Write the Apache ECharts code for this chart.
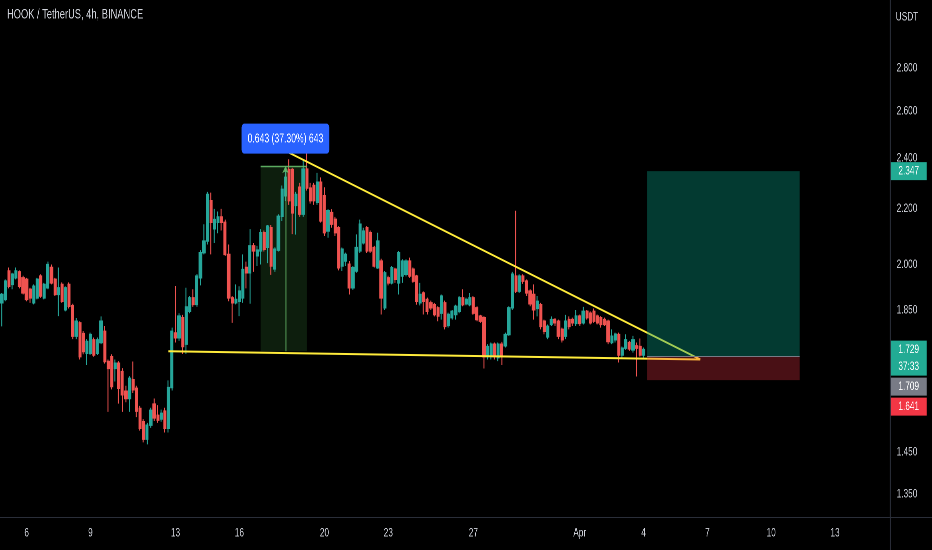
<!DOCTYPE html>
<html><head><meta charset="utf-8">
<script src="https://cdn.jsdelivr.net/npm/echarts@6/dist/echarts.min.js"></script>
<style>html,body{margin:0;padding:0;background:#000;overflow:hidden;width:932px;height:550px}#c{width:1351px;height:550px;transform:scaleX(0.68986);transform-origin:0 0}</style>
</head><body><div id="c"></div>
<script>
const chartTitle = 'HOOK / TetherUS, 4h, BINANCE';
const startUTC = [2023, 2, 4, 20];
const slotCount = 251;
// [open, close, low, high]
const ohlc = [
[1.873,1.900,1.799,1.905],[1.884,1.944,1.878,1.950],[1.978,1.927,1.920,1.990],[1.933,1.967,1.917,1.972],
[1.955,1.978,1.950,1.990],[1.975,1.927,1.920,1.980],[1.955,1.905,1.900,1.962],[1.950,1.884,1.878,1.955],
[1.917,1.889,1.873,1.922],[1.873,1.927,1.868,1.933],[1.889,1.950,1.884,1.955],[1.961,1.895,1.889,1.967],
[1.889,1.933,1.884,1.938],[1.922,2.000,1.917,2.010],[1.990,1.938,1.933,2.000],[1.950,1.900,1.895,1.955],
[1.900,1.922,1.831,1.990],[1.933,1.878,1.873,1.940],[1.851,1.922,1.846,1.927],[1.933,1.862,1.855,1.940],
[1.864,1.769,1.760,1.870],[1.769,1.815,1.760,1.825],[1.810,1.708,1.700,1.815],[1.777,1.723,1.715,1.785],
[1.718,1.753,1.684,1.760],[1.718,1.774,1.713,1.780],[1.758,1.713,1.708,1.765],[1.718,1.758,1.713,1.765],
[1.750,1.815,1.745,1.830],[1.784,1.694,1.688,1.800],[1.694,1.674,1.554,1.700],[1.708,1.623,1.615,1.715],
[1.674,1.689,1.637,1.700],[1.689,1.618,1.576,1.695],[1.665,1.600,1.554,1.675],[1.610,1.590,1.580,1.625],
[1.590,1.646,1.554,1.652],[1.642,1.614,1.605,1.694],[1.618,1.556,1.540,1.625],[1.563,1.511,1.505,1.570],
[1.528,1.483,1.475,1.535],[1.483,1.519,1.470,1.525],[1.519,1.558,1.512,1.565],[1.575,1.538,1.530,1.590],
[1.545,1.532,1.525,1.572],[1.535,1.550,1.528,1.560],[1.556,1.511,1.500,1.565],[1.511,1.620,1.500,1.640],
[1.620,1.784,1.612,1.795],[1.779,1.764,1.750,1.928],[1.764,1.831,1.755,1.840],[1.826,1.738,1.716,1.835],
[1.745,1.860,1.716,1.922],[1.846,1.889,1.840,1.895],[1.889,1.868,1.860,1.917],[1.868,1.961,1.860,1.968],
[1.955,2.041,1.930,2.050],[2.041,2.082,2.035,2.143],[2.082,2.255,2.070,2.265],[2.231,2.150,2.035,2.262],
[2.126,2.160,2.075,2.200],[2.150,2.170,2.110,2.190],[2.170,2.150,2.120,2.200],[2.150,2.035,2.030,2.160],
[2.035,1.889,1.878,2.070],[1.889,1.873,1.810,1.895],[1.873,1.884,1.868,1.933],[1.878,1.911,1.831,1.927],
[1.889,1.983,1.873,2.035],[1.990,1.972,1.920,2.010],[1.972,2.065,1.870,2.125],[2.065,2.047,1.975,2.075],
[2.030,2.050,1.995,2.065],[2.047,2.112,2.000,2.125],[2.112,2.053,2.045,2.120],[2.060,2.136,2.005,2.140],
[2.130,1.995,1.965,2.140],[1.985,2.053,1.975,2.060],[2.050,2.172,2.045,2.180],[2.172,2.275,2.155,2.290],
[2.250,2.322,2.230,2.360],[2.353,2.231,2.215,2.395],[2.353,2.185,2.107,2.360],[2.213,2.255,2.105,2.265],
[2.283,2.180,2.170,2.300],[2.180,2.355,2.170,2.390],[2.355,2.280,2.270,2.420],[2.280,2.231,2.220,2.300],
[2.290,2.231,2.215,2.300],[2.225,2.303,2.215,2.340],[2.303,2.155,2.149,2.322],[2.250,2.112,2.100,2.283],
[2.118,2.193,2.094,2.199],[2.186,2.143,2.130,2.199],[2.161,2.112,2.100,2.170],[2.130,1.989,1.980,2.136],
[1.995,2.053,1.978,2.059],[2.012,2.035,1.995,2.041],[2.001,1.922,1.900,2.012],[1.922,1.989,1.915,1.995],
[1.978,2.059,1.972,2.106],[2.047,2.143,2.040,2.160],[2.076,2.118,2.070,2.130],[2.130,2.047,2.040,2.136],
[2.112,2.047,2.040,2.120],[2.059,1.995,1.990,2.065],[1.989,2.082,1.985,2.112],[2.012,1.889,1.836,2.020],
[1.857,1.972,1.850,1.978],[1.955,1.938,1.930,1.962],[1.938,1.989,1.933,1.995],[1.984,1.950,1.938,1.989],
[1.938,2.041,1.900,2.047],[1.961,2.012,1.938,2.018],[1.967,2.012,1.960,2.018],[2.012,1.961,1.955,2.024],
[1.984,1.944,1.938,1.990],[1.961,1.878,1.867,1.965],[1.873,1.900,1.865,1.938],[1.905,1.878,1.836,1.910],
[1.884,1.846,1.836,1.890],[1.873,1.857,1.850,1.880],[1.867,1.836,1.830,1.873],[1.857,1.831,1.815,1.862],
[1.840,1.895,1.820,1.900],[1.873,1.799,1.790,1.880],[1.802,1.836,1.795,1.842],[1.826,1.846,1.820,1.850],
[1.836,1.862,1.820,1.867],[1.846,1.889,1.840,1.895],[1.889,1.867,1.862,1.917],[1.870,1.884,1.865,1.890],
[1.867,1.889,1.862,1.905],[1.889,1.840,1.835,1.895],[1.857,1.820,1.815,1.862],[1.831,1.815,1.810,1.835],
[1.826,1.708,1.674,1.831],[1.708,1.738,1.700,1.745],[1.708,1.745,1.700,1.750],[1.745,1.708,1.700,1.750],
[1.705,1.745,1.695,1.750],[1.745,1.708,1.684,1.752],[1.740,1.774,1.735,1.780],[1.774,1.857,1.770,1.862],
[1.857,1.967,1.850,1.975],[1.961,1.911,1.905,2.193],[1.911,1.961,1.905,1.967],[1.961,1.944,1.935,1.967],
[1.944,1.905,1.895,1.950],[1.911,1.870,1.862,1.917],[1.900,1.851,1.820,1.933],[1.855,1.878,1.830,1.895],
[1.867,1.799,1.790,1.873],[1.815,1.784,1.775,1.820],[1.767,1.799,1.760,1.805],[1.805,1.820,1.800,1.830],
[1.820,1.810,1.800,1.825],[1.815,1.769,1.760,1.820],[1.790,1.758,1.750,1.795],[1.769,1.815,1.760,1.835],
[1.820,1.799,1.790,1.830],[1.820,1.810,1.800,1.826],[1.808,1.831,1.800,1.850],[1.831,1.808,1.800,1.836],
[1.810,1.846,1.805,1.860],[1.846,1.826,1.820,1.850],[1.840,1.810,1.805,1.846],[1.846,1.815,1.810,1.855],
[1.831,1.810,1.805,1.836],[1.826,1.805,1.795,1.831],[1.820,1.805,1.800,1.826],[1.815,1.753,1.745,1.820],
[1.750,1.769,1.745,1.790],[1.758,1.775,1.750,1.780],[1.774,1.713,1.691,1.780],[1.713,1.733,1.705,1.738],
[1.733,1.758,1.728,1.775],[1.750,1.731,1.725,1.755],[1.728,1.758,1.720,1.770],[1.740,1.733,1.651,1.750],
[1.738,1.713,1.708,1.762],[1.713,1.729,1.705,1.735]
];
const dayTickDates = ['2023-03-06','2023-03-09','2023-03-13','2023-03-16','2023-03-20','2023-03-23','2023-03-27','2023-04-01','2023-04-04','2023-04-07','2023-04-10','2023-04-13'];
const dayTickLabels = ['6','9','13','16','20','23','27','Apr','4','7','10','13'];
const priceTicks = [2.8, 2.6, 2.4, 2.2, 2.0, 1.85, 1.45, 1.35];
const priceRange = [1.298, 3.146];
const upperTrend = [['2023-03-18 08:00', 2.422], ['2023-04-06 16:00', 1.700]];
const lowerTrend = [['2023-03-12 16:00', 1.724], ['2023-04-06 16:00', 1.700]];
const measureTimes = ['2023-03-17 00:00', '2023-03-18 04:00', '2023-03-19 04:00'];
const measurePrices = [1.724, 2.367];
const positionTimes = ['2023-04-04 04:00', '2023-04-11 08:00'];
const positionPrices = { stop: 1.641, entry: 1.709, target: 2.347 };
const lastPrice = 1.729;
const countdown = '37:33';

// the page is drawn wide and squeezed horizontally (condensed look of the reference)
const SX = 0.68986;
const FONT = "sans-serif";
const TXT = '#d1d4dc';
const UP = '#26a69a', DOWN = '#ef5350';
const GRID = { left: 0, right: 42 / SX, top: 0, bottom: 33 };
const L = Math.log;

const pad = n => String(n).padStart(2, '0');
const categories = [];
const t0 = Date.UTC(...startUTC);
for (let i = 0; i < slotCount; i++) {
  const d = new Date(t0 + i * 4 * 3600e3);
  categories.push(`${d.getUTCFullYear()}-${pad(d.getUTCMonth() + 1)}-${pad(d.getUTCDate())} ${pad(d.getUTCHours())}:00`);
}
const tickMap = {};
dayTickDates.forEach((d, i) => { tickMap[d + ' 00:00'] = dayTickLabels[i]; });

const mDiff = measurePrices[1] - measurePrices[0];
const measureText = `${mDiff.toFixed(3)} (${(mDiff / measurePrices[0] * 100).toFixed(2)}%) ${Math.round(mDiff * 1000)}`;

const chart = echarts.init(document.getElementById('c'), null, { renderer: 'canvas', devicePixelRatio: 2 });
chart.setOption({
  backgroundColor: '#000000',
  animation: false,
  title: { text: chartTitle, left: 7 / SX - 5, top: 3, textStyle: { color: TXT, fontSize: 13.5, fontWeight: 'normal', fontFamily: FONT } },
  grid: GRID,
  xAxis: {
    type: 'category', data: categories, boundaryGap: true,
    axisLine: { show: true, lineStyle: { color: '#2a2e39' } },
    axisTick: { show: false }, splitLine: { show: false },
    axisLabel: { interval: (idx, val) => tickMap.hasOwnProperty(val), formatter: v => tickMap[v] || '', color: TXT, fontSize: 12, margin: 10, fontFamily: FONT }
  },
  yAxis: {
    type: 'value', position: 'right', min: L(priceRange[0]), max: L(priceRange[1]),
    axisLine: { show: true, lineStyle: { color: '#2a2e39', width: 1.4 } },
    axisTick: { show: false }, splitLine: { show: false },
    axisLabel: { customValues: priceTicks.map(L), formatter: v => Math.exp(v).toFixed(3), color: TXT, fontSize: 12, align: 'center', margin: 17 / SX, fontFamily: FONT }
  },
  series: [
    {
      type: 'candlestick', barWidth: '72%',
      data: ohlc.map(r => r.map(L)),
      itemStyle: { color: UP, color0: DOWN, borderColor: UP, borderColor0: DOWN, borderWidth: 1.4 },
      markArea: {
        silent: true,
        itemStyle: { color: 'rgba(76,175,80,0.17)' },
        data: [[{ xAxis: measureTimes[0], yAxis: L(measurePrices[0]) }, { xAxis: measureTimes[2], yAxis: L(measurePrices[1]) }]]
      },
      markLine: {
        silent: true, symbol: 'none', label: { show: false },
        lineStyle: { color: 'rgba(102,187,106,0.9)', width: 1.4, type: 'solid' },
        data: [
          [{ coord: [measureTimes[1], L(measurePrices[0])], symbol: 'none' }, { coord: [measureTimes[1], L(measurePrices[1])], symbol: 'arrow', symbolSize: 7 }],
          [{ coord: [measureTimes[0], L(measurePrices[1])] }, { coord: [measureTimes[2], L(measurePrices[1])] }]
        ]
      },
      markPoint: {
        silent: true,
        data: [{
          coord: [measureTimes[1], L(measurePrices[1])], symbol: 'rect', symbolSize: 1,
          itemStyle: { color: 'rgba(0,0,0,0)' },
          label: { show: true, position: 'top', distance: 12, formatter: measureText, backgroundColor: '#2962ff', borderRadius: 4, padding: [9, 6 / SX, 8, 6 / SX], color: '#ffffff', fontSize: 12.5, fontFamily: FONT }
        }]
      }
    },
    {
      type: 'line', z: 3, showSymbol: false, silent: true,
      data: upperTrend.map(p => [p[0], L(p[1])]),
      lineStyle: { color: '#ffeb3b', width: 2 }
    },
    {
      type: 'line', z: 3, showSymbol: false, silent: true,
      data: lowerTrend.map(p => [p[0], L(p[1])]),
      lineStyle: { color: '#ffeb3b', width: 2 }
    },
    {
      type: 'line', data: [], silent: true,
      markArea: {
        silent: true, z: 10,
        data: [
          [{ xAxis: positionTimes[0], yAxis: L(positionPrices.entry), itemStyle: { color: 'rgba(8,153,129,0.38)' } }, { xAxis: positionTimes[1], yAxis: L(positionPrices.target) }],
          [{ xAxis: positionTimes[0], yAxis: L(positionPrices.stop), itemStyle: { color: 'rgba(242,54,69,0.30)' } }, { xAxis: positionTimes[1], yAxis: L(positionPrices.entry) }]
        ]
      },
      markLine: {
        silent: true, z: 11, symbol: 'none', label: { show: false },
        lineStyle: { color: '#787b86', width: 1, type: 'solid' },
        data: [[{ coord: [positionTimes[0], L(positionPrices.entry)] }, { coord: [positionTimes[1], L(positionPrices.entry)] }]]
      }
    }
  ]
});

// price badges on the price scale
const axisX = chart.getWidth() - GRID.right;
const BW = 36 / SX;
const badges = [
  { price: positionPrices.target, color: '#22ab94' },
  { price: lastPrice, color: '#22ab94', extra: countdown },
  { price: positionPrices.entry, color: '#787b86' },
  { price: positionPrices.stop, color: '#f23645' }
].map(b => ({ ...b, y: chart.convertToPixel({ yAxisIndex: 0 }, L(b.price)) })).sort((a, b) => a.y - b.y);
const graphics = [];
let prevBottom = -1e9;
badges.forEach(b => {
  const h = b.extra ? 35 : 18;
  const top = Math.max(b.y - 9, prevBottom + 2);
  prevBottom = top + h;
  graphics.push({ type: 'rect', z: 50, shape: { x: axisX + 1, y: top, width: BW, height: h }, style: { fill: b.color } });
  graphics.push({ type: 'text', z: 51, style: { text: b.price.toFixed(3), x: axisX + 1 + BW / 2, y: top + 9, align: 'center', verticalAlign: 'middle', fill: '#ffffff', font: '12px ' + FONT } });
  if (b.extra) graphics.push({ type: 'text', z: 51, style: { text: b.extra, x: axisX + 1 + BW / 2, y: top + 26, align: 'center', verticalAlign: 'middle', fill: '#ffffff', font: '12px ' + FONT } });
});
const axisY = chart.getHeight() - GRID.bottom;
graphics.push({ type: 'text', z: 51, style: { text: 'USDT', x: axisX + 17 / SX, y: 17, align: 'center', verticalAlign: 'middle', fill: TXT, font: '12px ' + FONT } });
graphics.push({ type: 'line', z: 5, shape: { x1: axisX + 0.5, y1: axisY, x2: axisX + 0.5, y2: chart.getHeight() }, style: { stroke: '#2a2e39', lineWidth: 1.4 } });
graphics.push({ type: 'line', z: 5, shape: { x1: axisX, y1: axisY + 0.5, x2: chart.getWidth(), y2: axisY + 0.5 }, style: { stroke: '#2a2e39', lineWidth: 1 } });
chart.setOption({ graphic: graphics });
</script></body></html>
